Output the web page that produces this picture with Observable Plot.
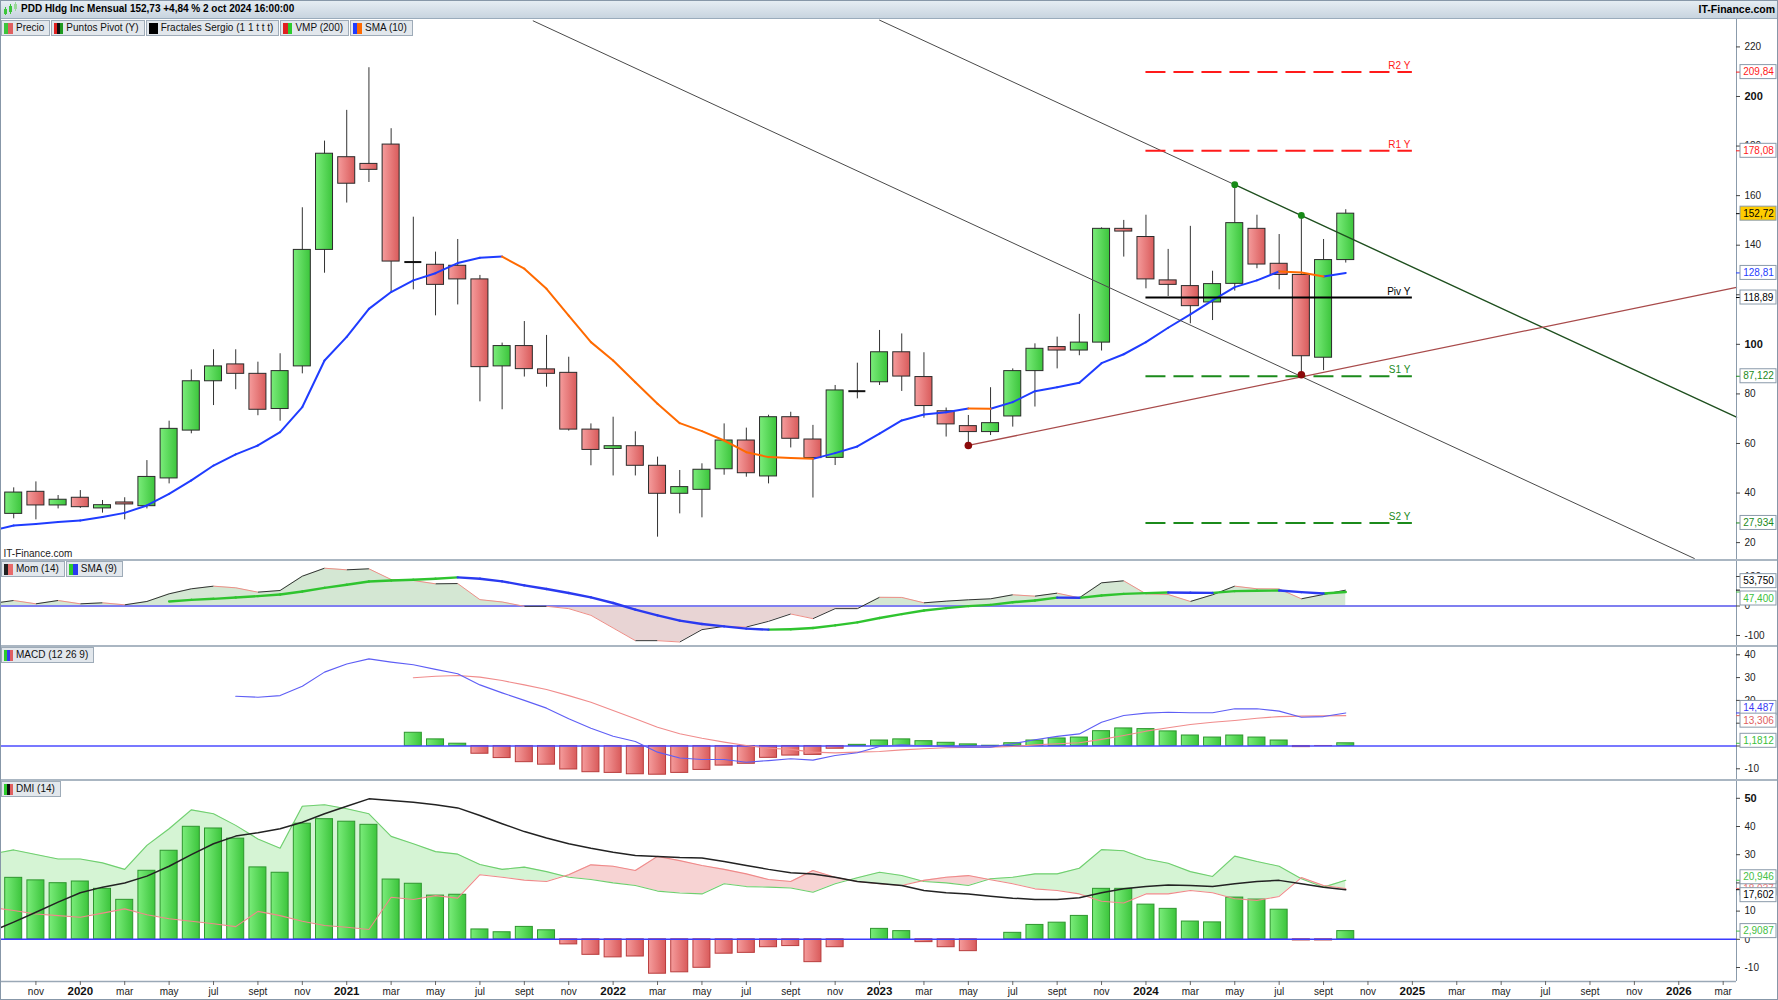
<!DOCTYPE html>
<html><head><meta charset="utf-8">
<script src="https://cdn.jsdelivr.net/npm/d3@7"></script>
<script src="https://cdn.jsdelivr.net/npm/@observablehq/plot@0.6"></script>
<style>
html,body{margin:0;padding:0;background:#fff;overflow:hidden;}
#root{position:relative;width:1778px;height:1000px;overflow:hidden;font-family:"Liberation Sans",Arial,sans-serif;font-size:10px;color:#111;background:#fff;}
.panel{position:absolute;left:0;width:1778px;}
.panel svg{display:block;}
#hdr{position:absolute;left:0;top:0;width:1778px;height:19px;background:linear-gradient(#e7eef4,#c8d4df);border-bottom:1px solid #9aabbb;box-sizing:border-box;}
#title{position:absolute;left:21px;top:3px;font-weight:bold;font-size:10px;color:#000;}
#brand{position:absolute;right:3px;top:3px;font-weight:bold;font-size:10.5px;color:#000;}
#ico{position:absolute;left:3px;top:2px;}
.sep{position:absolute;left:0;width:1778px;height:2px;background:#aab6c2;}
.legend{position:absolute;left:1px;display:flex;gap:1px;z-index:5;}
.chip{height:14px;line-height:14px;border:1px solid #9eabb8;background:#e2e7ec;padding:0 5px 0 2px;display:flex;align-items:center;gap:3px;font-size:10px;white-space:nowrap;color:#111;}
.sw{width:9px;height:11px;display:inline-block;}
#frame{position:absolute;left:0;top:0;width:1778px;height:1000px;box-sizing:border-box;border:1px solid #8797a8;pointer-events:none;z-index:10;}
</style></head>
<body>
<svg width="0" height="0" style="position:absolute">
  <defs>
    <linearGradient id="gG" x1="0" x2="1" y1="0" y2="0"><stop offset="0" stop-color="#7aec7a"/><stop offset="1" stop-color="#3cc53c"/></linearGradient>
    <linearGradient id="gR" x1="0" x2="1" y1="0" y2="0"><stop offset="0" stop-color="#f59c9c"/><stop offset="1" stop-color="#d95b5b"/></linearGradient>
  </defs>
</svg>
<div id="root">
  <div id="hdr">
    <svg id="ico" width="15" height="14"><rect x="1" y="7" width="3" height="5" fill="#3cc53c"/><line x1="2.5" y1="5" x2="2.5" y2="13" stroke="#3cc53c"/><rect x="6" y="4" width="3" height="6" fill="#3cc53c"/><line x1="7.5" y1="2" x2="7.5" y2="12" stroke="#3cc53c"/><rect x="11" y="2" width="3" height="5" fill="#9ad89a"/><line x1="12.5" y1="0" x2="12.5" y2="9" stroke="#9ad89a"/></svg>
    <span id="title">PDD Hldg Inc Mensual 152,73 +4,84 % 2 oct 2024 16:00:00</span>
    <span id="brand">IT-Finance.com</span>
  </div>
  <div class="legend" style="top:20px">
    <div class="chip"><span class="sw" style="background:linear-gradient(90deg,#3cc53c 50%,#e06060 50%)"></span>Precio</div>
    <div class="chip"><span class="sw" style="background:linear-gradient(90deg,#e02020 33%,#111 33% 66%,#1f9a1f 66%)"></span>Puntos Pivot (Y)</div>
    <div class="chip"><span class="sw" style="background:#000"></span>Fractales Sergio (1 1 t t t)</div>
    <div class="chip"><span class="sw" style="background:linear-gradient(90deg,#e02020 50%,#2ccc2c 50%)"></span>VMP (200)</div>
    <div class="chip"><span class="sw" style="background:linear-gradient(90deg,#1f3cff 50%,#ff6a00 50%)"></span>SMA (10)</div>
  </div>
  <div class="legend" style="top:561px">
    <div class="chip"><span class="sw" style="background:linear-gradient(90deg,#222 50%,#e86a6a 50%)"></span>Mom (14)</div>
    <div class="chip"><span class="sw" style="background:linear-gradient(90deg,#2ccc2c 50%,#2a3af0 50%)"></span>SMA (9)</div>
  </div>
  <div class="legend" style="top:647px">
    <div class="chip"><span class="sw" style="background:linear-gradient(90deg,#2ccc2c 33%,#3a3af0 33% 66%,#e06060 66%)"></span>MACD (12 26 9)</div>
  </div>
  <div class="legend" style="top:781px">
    <div class="chip"><span class="sw" style="background:linear-gradient(90deg,#2ccc2c 33%,#111 33% 66%,#e06060 66%)"></span>DMI (14)</div>
  </div>
  <div class="panel" id="pPrice" style="top:19px"></div>
  <div class="sep" style="top:559px"></div>
  <div class="panel" id="pMom" style="top:561px"></div>
  <div class="sep" style="top:645px"></div>
  <div class="panel" id="pMacd" style="top:647px"></div>
  <div class="sep" style="top:779px"></div>
  <div class="panel" id="pDmi" style="top:781px"></div>
  <div id="frame"></div>
</div>
<script>
// ===================== DATA (monthly bars, Sep 2019 ... Oct 2024) =====================
const firstMonth = "2019-09";
const open = [null,
 31.6,40.5,35.0,38.1,33.8,36.2,34.7,45.9,65.2,85.1,
 91.9,88.1,73.9,91.1,138.1,175.5,172.8,180.6,133.2,132.1,
 131.7,126.2,91.1,99.3,89.9,88.5,65.6,57.8,58.9,51.0,
 39.7,41.3,49.6,61.2,46.7,70.6,61.6,54.2,81.1,84.7,
 96.8,86.8,73.0,67.0,64.6,70.9,89.2,98.9,97.5,100.7,
 146.6,143.3,125.8,123.5,116.9,124.4,146.6,132.5,128.0,94.6,
 134.0];
const high = [null,
 42.1,44.5,39.0,41.0,37.0,38.1,53.1,69.0,89.7,97.8,
 97.8,92.8,96.2,155.1,182.0,194.4,211.6,187.0,151.3,137.2,
 142.3,127.8,100.5,109.2,103.6,94.8,67.9,70.6,64.7,54.5,
 49.1,51.8,67.9,66.2,71.4,72.6,67.3,83.4,92.4,105.6,
 104.2,96.6,74.3,71.3,82.5,90.1,100.2,102.9,112.1,147.0,
 150.0,152.1,138.3,147.6,129.5,164.4,152.1,144.3,151.8,142.3,
 154.3];
const low = [null,
 29.6,29.2,33.6,33.8,31.9,29.2,33.6,43.7,63.9,75.3,
 81.7,71.2,69.0,88.1,128.7,157.0,165.3,121.1,122.0,111.5,
 115.9,76.8,73.6,86.8,82.7,65.0,51.0,46.9,46.9,22.2,
 31.6,30.0,47.2,46.4,43.7,58.2,38.0,51.1,78.0,83.4,
 81.0,70.2,62.6,59.2,63.2,66.6,74.7,90.1,95.4,97.3,
 135.2,122.4,119.3,108.3,109.6,121.5,130.5,122.0,87.7,89.4,
 132.8];
const close = [null,
 40.2,35.0,37.3,34.3,35.1,35.4,46.5,65.9,85.1,91.1,
 88.1,73.6,89.2,138.1,176.9,164.8,170.4,133.4,133.2,124.0,
 126.2,90.8,99.3,90.0,88.1,65.6,57.4,58.9,51.0,39.7,
 42.4,49.4,61.2,48.0,70.6,61.9,54.1,81.4,81.1,96.8,
 87.0,75.1,67.7,64.6,68.2,89.2,98.2,97.5,100.7,146.6,
 145.5,126.2,124.0,115.4,124.3,148.9,132.2,128.0,95.2,134.0,
 152.72];
const sma10 = [24.8,
 26.9,27.5,28.3,28.9,30.3,32.0,35.0,39.7,45.1,51.1,
 55.6,59.2,64.6,74.7,93.5,103.0,114.3,121.1,125.8,128.7,
 132.8,134.9,135.4,130.5,122.4,111.6,100.9,93.5,84.7,76.0,
 68.2,65.0,61.2,56.5,54.5,54.1,53.8,56.1,58.8,64.0,
 69.3,71.7,72.6,74.1,74.0,76.7,81.1,82.7,84.5,92.4,
 96.0,100.9,106.7,112.1,117.7,123.1,125.8,129.4,129.0,127.4,
 128.81];
const mom14 = [8.2,
 18.6,7.3,18.6,7.3,10.7,3.9,15.3,41.2,58.2,67.2,
 61.6,46.9,52.5,101,128,122.6,126,89.8,86.4,75.1,
 76,21.5,13.6,-1.1,-1.0,-9,-31.6,-74.6,-117.5,-117.5,
 -122,-80.2,-69,-71.2,-52,-27.1,-42.9,-9,-9,29.4,
 29,10.7,16.4,20.9,24.3,37.9,33.3,43.5,27.7,78.5,
 85.3,41.2,39,15.3,37.9,67.2,58.2,57.8,24.3,39,
 53.75];
const momSma9 = [null,null,null,null,null,null,null,null,
 15.3,20.9,24.3,
 28.8,33.3,39,49.2,61.6,71.8,83,86.4,88.7,92.1,
 97,92.5,83.6,70,57.6,44,29.4,10.2,-12.4,-31.6,
 -49.7,-61,-69,-76.8,-80.2,-79,-74.6,-65.5,-55.4,-40.7,
 -27.5,-15.3,-7.3,-0.5,3.9,12.9,18.6,28.5,27.7,35.6,
 41.2,43.5,45.8,45,44.5,50.3,51.5,52.5,46.9,42.4,
 47.4];
const macdLine = [null,null,null,null,null,null,null,null,null,null,null,
 21.8,21.4,22.1,26.2,32.4,36,38.2,36.8,35.6,33.6,
 31.7,26.8,23.3,20,16.6,11.9,7.8,4.3,2,-2.7,
 -5.3,-5.9,-5.9,-7.1,-6.4,-5.6,-6.2,-4.2,-3,-0.2,
 0.5,0,-0.3,-0.5,-0.5,1,2.7,4.2,5.3,10.4,
 13.4,14.4,14.8,14.6,14.6,16.3,16.3,15.3,12.6,12.9,
 14.49];
const macdSignal = [null,null,null,null,null,null,null,null,null,null,
 null,null,null,null,null,null,null,null,null,29.9,30.6,
 30.9,30.2,28.7,26.8,24.8,22.1,19.2,15.6,11.9,8.2,
 5.4,3.4,1.7,0.2,-1,-1.5,-2.7,-3,-2.7,-2.4,
 -1.7,-1.2,-0.8,-0.6,-0.5,-0.2,0.5,1,1.4,2.9,
 4.6,6.5,8,9.4,10.4,11.2,12.2,12.9,13.1,13.2,
 13.31];
const macdHist = [null,null,null,null,null,null,null,null,null,null,
 null,null,null,null,null,null,null,null,null,5.8,2.9,
 1.0,-3.4,-5.3,-7.1,-8.2,-10.3,-11.5,-11.8,-12.4,-12.6,
 -11.8,-10.5,-8.6,-7.8,-5.2,-4.2,-3.9,-1.2,0.5,2.4,
 2.9,2.1,1.4,0.7,0.1,1.2,2.4,3.3,3.7,6.5,
 7.7,7.4,6.4,4.6,3.7,4.6,3.7,2.4,-0.5,-0.05,
 1.18];
const diPlus = [30.2,
 31.7,30.1,28.5,28.5,27.1,24.8,33.3,39.2,45.9,44.5,
 40.4,35.6,32.3,47.2,47.7,46.3,44.5,36.5,33.9,31.1,
 30.2,26.5,24.8,25.6,24.0,22.0,21.2,20.0,19.1,17.1,
 16.4,16.1,19.7,18.7,18.5,18.2,16.7,19.7,21.8,23.8,
 22.6,20.5,20.0,19.1,21.5,22.0,23.2,23.2,25.2,31.8,
 31.4,28.5,27.0,24.0,22.3,29.5,27.6,25.9,21.5,18.5,
 20.95];
const diMinus = [11.3,
 10.2,9.0,8.4,7.8,9.3,10.8,8.7,7.3,6.4,5.5,
 4.5,9.9,8.4,6.4,4.9,4.3,3.5,14.9,14.1,15.5,
 14.6,22.9,22.0,21.0,20.5,22.9,26.4,25.9,24.4,29.4,
 27.9,26.2,24.8,23.2,21.2,20.5,24.4,22.0,20.5,19.7,
 19.1,20.9,22.0,22.6,21.1,19.7,17.9,17.3,16.1,13.5,
 12.9,16.1,16.1,17.3,16.5,14.4,13.8,15.2,21.9,19.1,
 18.04];
const adx = [2.8,
 6.1,9.6,13.2,16.5,18.5,20,22.4,25.9,30,33.9,
 36.6,37.8,39.2,41.5,44.5,47.2,49.8,49.2,48.6,47.7,
 46.6,43.9,41,38.2,35.9,33.9,32.3,30.9,29.7,29.4,
 29.0,28.8,27.6,26.2,24.8,23.6,23.2,22,20.5,19.8,
 19.1,17.3,16.5,16.1,15.3,14.6,14.1,14.1,14.7,16.5,
 17.9,18.7,19.3,19.1,18.7,19.7,20.5,20.9,19.7,18.5,
 17.6];
const dmiHist = [null,
 21.8,20.9,19.9,20.5,17.9,14,24.3,31.4,39.9,39.3,
 35.7,25.5,23.6,41,42.6,41.7,40.6,21.2,19.7,15.5,
 15.8,3.5,2.5,4.4,3.2,-1.8,-5.5,-6.4,-6.1,-12.2,
 -11.7,-10.1,-5.1,-4.8,-2.8,-2.4,-8.1,-2.8,0,3.7,
 2.9,-1.0,-2.8,-4.2,0,2.3,5.1,5.9,8.3,17.9,
 17.9,12.3,10.8,6.3,6.0,14.8,14.1,10.5,-0.4,-0.4,
 2.91];

// yearly pivot points (2024)
const pivotNames = ["R2 Y","R1 Y","Piv Y","S1 Y","S2 Y"];
const pivotValues = [209.84,178.08,118.89,87.122,27.934];
const pivotSpan = [51, 63]; // Jan 2024 .. Jan 2025 (month index)
// trend lines and fractals: [month index, price]
const channelLower = [[23.4,230.5],[75.7,13.6]];
const channelUpperA = [[39.0,230.8],[55,164.4]];
const channelUpperB = [[55,164.4],[77.6,70.6]];
const supportLine = [[43,59.2],[77.6,123.0]];
const fractalHighs = [[55,164.4],[58,152.0]];
const fractalLows = [[43,59.2],[58,87.7]];

// axis tick labels
const xTickLabels = ["nov","2020","mar","may","jul","sept",
 "nov","2021","mar","may","jul","sept",
 "nov","2022","mar","may","jul","sept",
 "nov","2023","mar","may","jul","sept",
 "nov","2024","mar","may","jul","sept",
 "nov","2025","mar","may","jul","sept",
 "nov","2026","mar"];
const priceTicks = [20,40,60,80,100,120,140,160,180,200,220];
const momTicks = [100,0,-100];
const macdTicks = [40,30,20,10,0,-10];
const dmiTicks = [50,40,30,20,10,0,-10];

// last-value markers on the right scale
const priceMarkVals = [209.84,178.08,152.72,128.81,118.89,87.122,27.934];
const priceMarkText = ["209,84","178,08","152,72","128,81","118,89","87,122","27,934"];
const momMarkVals = [53.75,47.4];
const momMarkText = ["53,750","47,400"];
const macdMarkVals = [14.487,13.306,1.1812];
const macdMarkText = ["14,487","13,306","1,1812"];
const dmiMarkVals = [18.037,20.946,17.602,2.9087];
const dmiMarkText = ["18,037","20,946","17,602","2,9087"];

// ===================== STYLE / LAYOUT =====================
const W = 1778, ML = 1, MR = 42;
const X_DOMAIN = [-0.55, 77.6];
const XMAX = X_DOMAIN[1];
const PPI = (W - ML - MR) / (X_DOMAIN[1] - X_DOMAIN[0]);
const BW = 8.5 / PPI;
const FONT = "Liberation Sans, Arial, sans-serif";

const idx = open.map((_, k) => k - 1);

function common(height, yDomain, mb = 0) {
  return {width: W, height, marginLeft: ML, marginRight: MR, marginTop: 0, marginBottom: mb,
    x: {domain: X_DOMAIN, axis: null}, y: {domain: yDomain, axis: null},
    style: {fontFamily: FONT, fontSize: "10px", background: "transparent", overflow: "hidden", color: "#222"}};
}
function ppuOf(height, dom, mb = 0) { return (height - mb) / (dom[1] - dom[0]); }

function segs(ys) {
  const up = [], dn = [];
  for (let k = 1; k < ys.length; k++) {
    if (ys[k-1] == null || ys[k] == null) continue;
    const s = {x1: idx[k-1], y1: ys[k-1], x2: idx[k], y2: ys[k]};
    (ys[k] >= ys[k-1] ? up : dn).push(s);
  }
  return {up, dn};
}
function bands(a, b) {
  const rows = []; let run = 0, prev = null;
  for (let k = 0; k < a.length; k++) {
    if (a[k] == null || b[k] == null) continue;
    const d = a[k] - b[k], s = d >= 0 ? 1 : -1;
    if (prev && s !== prev.s) {
      const t = prev.d / (prev.d - d);
      const xc = prev.x + t * (idx[k] - prev.x), yc = prev.a + t * (a[k] - prev.a);
      rows.push({x: xc, lo: yc, hi: yc, run, s: prev.s});
      run++;
      rows.push({x: xc, lo: yc, hi: yc, run, s});
    }
    rows.push({x: idx[k], lo: b[k], hi: a[k], run, s});
    prev = {x: idx[k], a: a[k], d, s};
  }
  return rows;
}
// tick labels listed in `covered` sit fully under a value box in the reference: tick only
function rightAxis(ticks, bold, covered = []) {
  const shown = ticks.filter(t => !covered.includes(t));
  return [
    Plot.ruleX([XMAX], {x: d => d, stroke: "#8b9bab", strokeWidth: 1}),
    Plot.ruleY(ticks, {y: d => d, x1: () => XMAX, x2: () => XMAX + 4 / PPI, stroke: "#444"}),
    Plot.text(shown.filter(t => !bold.includes(t)), {x: () => XMAX, y: d => d, text: d => String(d), dx: 8, textAnchor: "start", fontSize: 10, fill: "#222"}),
    Plot.text(shown.filter(t => bold.includes(t)), {x: () => XMAX, y: d => d, text: d => String(d), dx: 8, textAnchor: "start", fontSize: 11, fontWeight: "bold", fill: "#111"})
  ];
}
function valueBoxes(vals, texts, colors, bgs, nudges, ppu) {
  return vals.map((v, j) => {
    const yc = v - nudges[j] / ppu;
    return [
      Plot.ruleY([v], {y: d => d, x1: () => XMAX, x2: () => XMAX + 4 / PPI, stroke: colors[j]}),
      Plot.rect([v], {x1: () => XMAX + 4 / PPI, x2: () => XMAX + 40 / PPI, y1: () => yc - 7 / ppu, y2: () => yc + 7 / ppu, fill: bgs[j], stroke: "#8a9aaa"}),
      Plot.text([v], {x: () => XMAX + 22 / PPI, y: () => yc, text: () => texts[j], fill: colors[j], fontSize: 10})
    ];
  });
}

// ===================== PRICE PANEL =====================
const PRICE_H = 540, PRICE_DOM = [13.19, 231.06];
const pricePPU = ppuOf(PRICE_H, PRICE_DOM);
const candles = idx.map((i, k) => ({i, o: open[k], h: high[k], l: low[k], c: close[k]})).filter(d => d.o != null);
const upC = candles.filter(d => d.c > d.o), dnC = candles.filter(d => d.c < d.o), doji = candles.filter(d => d.c === d.o);
const smaS = segs(sma10);
const pivots = pivotNames.map((n, j) => ({n, v: pivotValues[j]}));
const pivColors = {"R2 Y": "#ff1a1a", "R1 Y": "#ff1a1a", "Piv Y": "#000000", "S1 Y": "#1b8a1b", "S2 Y": "#1b8a1b"};

const pricePlot = Plot.plot({
  ...common(PRICE_H, PRICE_DOM),
  marks: [
    Plot.ruleX(candles, {x: "i", y1: "l", y2: "h", stroke: "#333", strokeWidth: 1}),
    Plot.rect(upC, {x1: d => d.i - BW, x2: d => d.i + BW, y1: "o", y2: "c", fill: "url(#gG)", stroke: "#2a2a2a", strokeWidth: 1}),
    Plot.rect(dnC, {x1: d => d.i - BW, x2: d => d.i + BW, y1: "o", y2: "c", fill: "url(#gR)", stroke: "#2a2a2a", strokeWidth: 1}),
    Plot.ruleY(doji, {y: "o", x1: d => d.i - BW, x2: d => d.i + BW, stroke: "#111", strokeWidth: 2}),
    Plot.link(smaS.up, {x1: "x1", y1: "y1", x2: "x2", y2: "y2", stroke: "#1f3cff", strokeWidth: 2, strokeLinecap: "round"}),
    Plot.link(smaS.dn, {x1: "x1", y1: "y1", x2: "x2", y2: "y2", stroke: "#ff6a00", strokeWidth: 2, strokeLinecap: "round"}),
    Plot.line(channelLower, {x: d => d[0], y: d => d[1], stroke: "#4a4a4a", strokeWidth: 1}),
    Plot.line(channelUpperA, {x: d => d[0], y: d => d[1], stroke: "#4a4a4a", strokeWidth: 1}),
    Plot.line(channelUpperB, {x: d => d[0], y: d => d[1], stroke: "#1e4f1e", strokeWidth: 1.4}),
    Plot.line(supportLine, {x: d => d[0], y: d => d[1], stroke: "#a84a4a", strokeWidth: 1.3}),
    Plot.ruleY(pivots.filter(p => p.n !== "Piv Y"), {y: "v", x1: () => pivotSpan[0], x2: () => pivotSpan[1], stroke: d => pivColors[d.n], strokeWidth: 2, strokeDasharray: "20,8"}),
    Plot.ruleY(pivots.filter(p => p.n === "Piv Y"), {y: "v", x1: () => pivotSpan[0], x2: () => pivotSpan[1], stroke: "#000", strokeWidth: 2}),
    ...pivots.map(p => Plot.text([p], {x: () => pivotSpan[1], y: "v", text: "n", textAnchor: "end", dx: -2, dy: -6, fill: pivColors[p.n], fontSize: 10})),
    Plot.dot(fractalHighs, {x: d => d[0], y: d => d[1], r: 3.4, fill: "#178a17"}),
    Plot.dot(fractalLows, {x: d => d[0], y: d => d[1], r: 3.8, fill: "#8b0a0a"}),
    Plot.text(["IT-Finance.com"], {frameAnchor: "bottom-left", text: d => d, dx: 2, dy: -3, textAnchor: "start", fontSize: 10, fill: "#222"}),
    ...rightAxis(priceTicks, [100, 200], [120]),
    ...valueBoxes(priceMarkVals, priceMarkText,
      ["#ff1a1a","#ff1a1a","#000","#1f3cff","#000","#1b8a1b","#1b8a1b"],
      ["#fff","#fff","#ffcc00","#fff","#fff","#fff","#fff"],
      [0,0,0,0,0,0,0], pricePPU)
  ]
});
document.getElementById("pPrice").append(pricePlot);

// ===================== MOMENTUM PANEL =====================
const MOM_H = 84, MOM_DOM = [-133.9, 150.8];
const momPPU = ppuOf(MOM_H, MOM_DOM);
const momBands = bands(mom14, mom14.map(() => 0));
const momS = segs(mom14), momSmaS = segs(momSma9);
const momPlot = Plot.plot({
  ...common(MOM_H, MOM_DOM),
  marks: [
    Plot.areaY(momBands.filter(d => d.s > 0), {x: "x", y1: "lo", y2: "hi", z: "run", fill: "#d4e7d3"}),
    Plot.areaY(momBands.filter(d => d.s < 0), {x: "x", y1: "lo", y2: "hi", z: "run", fill: "#e8d4d4"}),
    Plot.ruleY([0], {y: d => d, stroke: "#7f7ff0", strokeWidth: 2}),
    Plot.link(momS.up, {x1: "x1", y1: "y1", x2: "x2", y2: "y2", stroke: "#333", strokeWidth: 1}),
    Plot.link(momS.dn, {x1: "x1", y1: "y1", x2: "x2", y2: "y2", stroke: "#ee8f88", strokeWidth: 1}),
    Plot.link(momSmaS.up, {x1: "x1", y1: "y1", x2: "x2", y2: "y2", stroke: "#2fc42f", strokeWidth: 2.4, strokeLinecap: "round"}),
    Plot.link(momSmaS.dn, {x1: "x1", y1: "y1", x2: "x2", y2: "y2", stroke: "#2a3af0", strokeWidth: 2.4, strokeLinecap: "round"}),
    ...rightAxis(momTicks, []),
    ...valueBoxes(momMarkVals, momMarkText, ["#000", "#3cbf3c"], ["#fff", "#fff"], [-9, 6.5], momPPU)
  ]
});
document.getElementById("pMom").append(momPlot);

// ===================== MACD PANEL =====================
const MACD_H = 132, MACD_DOM = [-14.7, 43.2];
const macdPPU = ppuOf(MACD_H, MACD_DOM);
const macdRows = idx.map((i, k) => ({i, h: macdHist[k]})).filter(d => d.h != null);
const macdPlot = Plot.plot({
  ...common(MACD_H, MACD_DOM),
  marks: [
    Plot.rect(macdRows.filter(d => d.h > 0), {x1: d => d.i - BW, x2: d => d.i + BW, y1: () => 0, y2: "h", fill: "url(#gG)", stroke: "#2e962e", strokeWidth: 1}),
    Plot.rect(macdRows.filter(d => d.h < 0), {x1: d => d.i - BW, x2: d => d.i + BW, y1: () => 0, y2: "h", fill: "url(#gR)", stroke: "#b83c3c", strokeWidth: 1}),
    Plot.ruleY([0], {y: d => d, stroke: "#4b4bff", strokeWidth: 1.5}),
    Plot.line(idx.map((i, k) => ({i, v: macdSignal[k]})).filter(d => d.v != null), {x: "i", y: "v", stroke: "#f08c8c", strokeWidth: 1.1}),
    Plot.line(idx.map((i, k) => ({i, v: macdLine[k]})).filter(d => d.v != null), {x: "i", y: "v", stroke: "#5e5ef5", strokeWidth: 1.1}),
    ...rightAxis(macdTicks, [], [10, 0]),
    ...valueBoxes(macdMarkVals, macdMarkText, ["#3a3af5", "#e06060", "#3cbf3c"], ["#fff", "#fff", "#fff"], [-5, 5, -2.5], macdPPU)
  ]
});
document.getElementById("pMacd").append(macdPlot);

// ===================== DMI PANEL =====================
const DMI_H = 219, DMI_MB = 19, DMI_DOM = [-14.96, 55.96];
const dmiPPU = ppuOf(DMI_H, DMI_DOM, DMI_MB);
const dmiBands = bands(diPlus, diMinus);
const dmiRows = idx.map((i, k) => ({i, h: dmiHist[k]})).filter(d => d.h != null && d.h !== 0);
const xTicks = xTickLabels.map((label, j) => ({i: 1 + 2 * j, label, year: /^\d{4}$/.test(label)}));
const dmiPlot = Plot.plot({
  ...common(DMI_H, DMI_DOM, DMI_MB),
  marks: [
    Plot.areaY(dmiBands.filter(d => d.s > 0), {x: "x", y1: "lo", y2: "hi", z: "run", fill: "#d5f4d4"}),
    Plot.areaY(dmiBands.filter(d => d.s < 0), {x: "x", y1: "lo", y2: "hi", z: "run", fill: "#f7d3d3"}),
    Plot.rect(dmiRows.filter(d => d.h > 0), {x1: d => d.i - BW, x2: d => d.i + BW, y1: () => 0, y2: "h", fill: "url(#gG)", stroke: "#2e962e", strokeWidth: 1}),
    Plot.rect(dmiRows.filter(d => d.h < 0), {x1: d => d.i - BW, x2: d => d.i + BW, y1: () => 0, y2: "h", fill: "url(#gR)", stroke: "#b83c3c", strokeWidth: 1}),
    Plot.ruleY([0], {y: d => d, stroke: "#3a3aff", strokeWidth: 1.5}),
    Plot.line(idx.map((i, k) => ({i, v: diPlus[k]})), {x: "i", y: "v", stroke: "#6fcf6f", strokeWidth: 1.1}),
    Plot.line(idx.map((i, k) => ({i, v: diMinus[k]})), {x: "i", y: "v", stroke: "#ef8a8a", strokeWidth: 1.1}),
    Plot.line(idx.map((i, k) => ({i, v: adx[k]})), {x: "i", y: "v", stroke: "#222", strokeWidth: 1.5}),
    Plot.ruleY([DMI_DOM[0]], {y: d => d, stroke: "#9aa8b6", strokeWidth: 1.5}),
    Plot.ruleX(xTicks, {x: "i", y1: () => DMI_DOM[0], y2: () => DMI_DOM[0] - 4 / dmiPPU, stroke: "#666"}),
    Plot.text(xTicks.filter(d => !d.year), {x: "i", y: () => DMI_DOM[0], text: "label", dy: 10, fontSize: 10, fill: "#222"}),
    Plot.text(xTicks.filter(d => d.year), {x: "i", y: () => DMI_DOM[0], text: "label", dy: 10, fontSize: 11.5, fontWeight: "bold", fill: "#111"}),
    ...rightAxis(dmiTicks, [50], [20]),
    ...valueBoxes(dmiMarkVals, dmiMarkText, ["#ef7070", "#45c045", "#000", "#45c045"], ["#fff", "#fff", "#fff", "#fff"], [0, -3, 5.5, 0], dmiPPU)
  ]
});
document.getElementById("pDmi").append(dmiPlot);
</script>
</body></html>
